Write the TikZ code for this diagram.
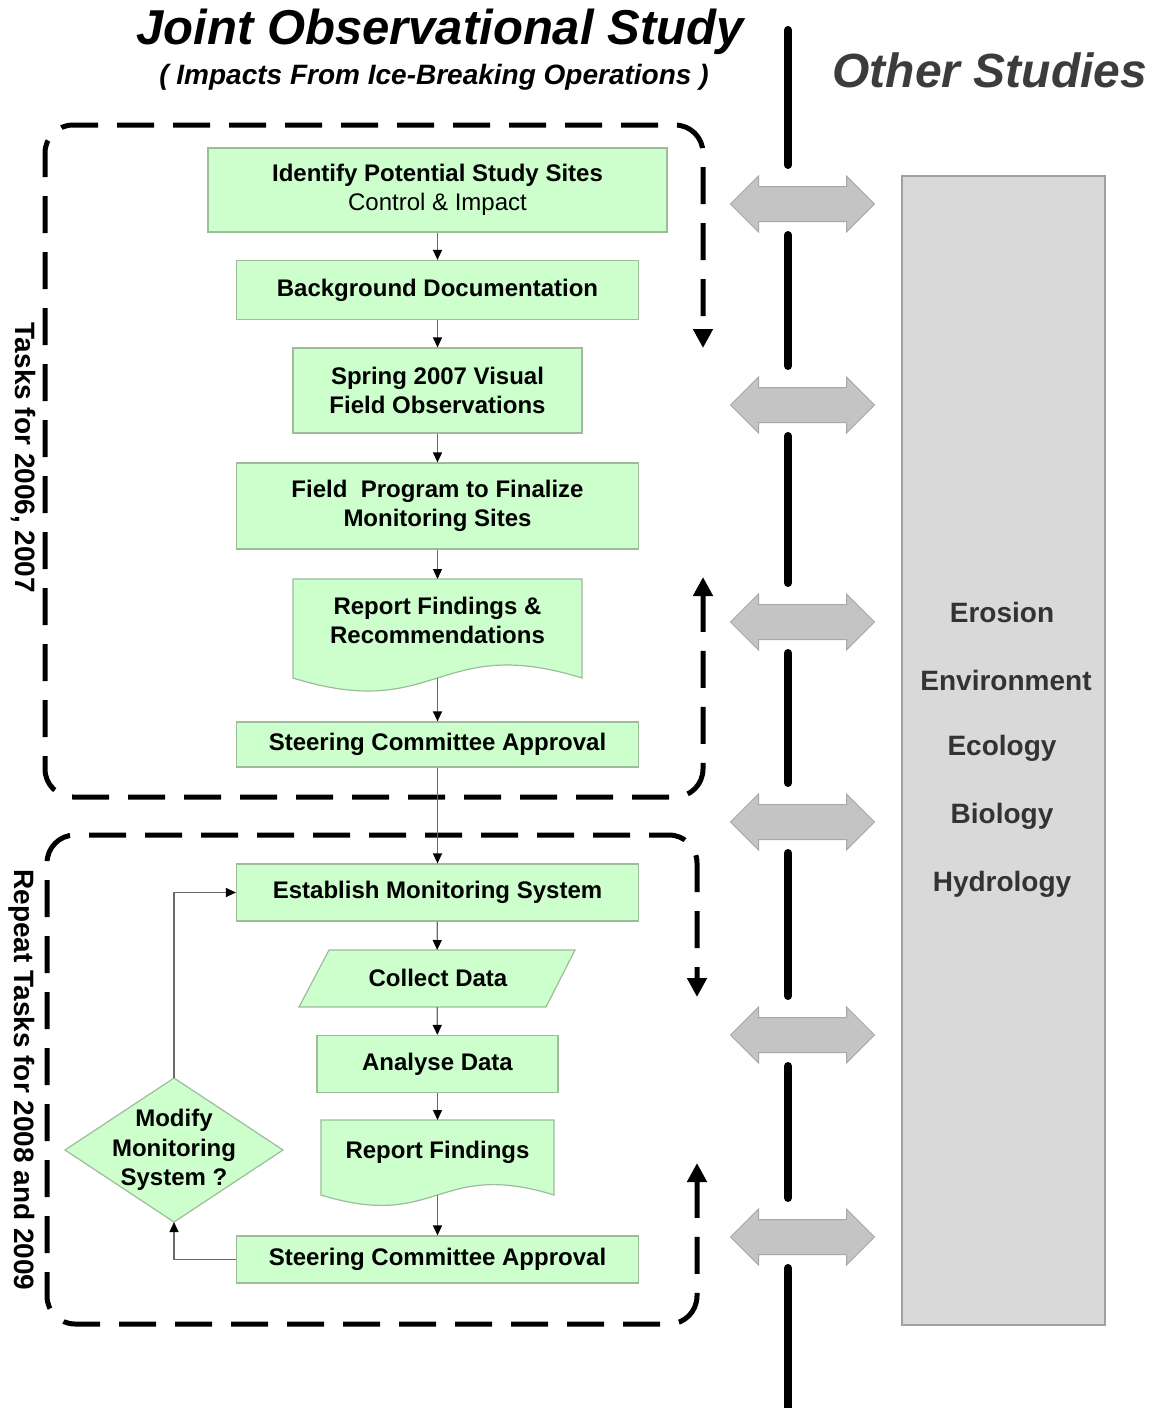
\documentclass[tikz,border=0pt]{standalone}
\usepackage{fontspec}
\setmainfont{Liberation Sans}
\usetikzlibrary{arrows.meta,calc}
\definecolor{boxgreen}{HTML}{CCFFCC}
\definecolor{boxedge}{HTML}{9CBC9C}
\definecolor{conngray}{HTML}{6A6A6A}
\definecolor{arrgray}{HTML}{C4C4C4}
\definecolor{arredge}{HTML}{A8A8A8}
\definecolor{panelgray}{HTML}{D9D9D9}
\definecolor{paneledge}{HTML}{A0A0A0}
\definecolor{darktext}{HTML}{333333}
\definecolor{othertext}{HTML}{3C3C3C}
\begin{document}
\begin{tikzpicture}[x=1pt,y=-1pt,
  proc/.style={draw=boxedge, fill=boxgreen, line width=1.2pt, align=center, inner sep=0pt,
    font=\fontsize{24}{29}\selectfont\bfseries},
  ghost/.style={inner sep=0pt, outer sep=0pt},
  boxtext/.style={align=center, inner sep=0pt, font=\fontsize{24}{29}\selectfont\bfseries},
  outline/.style={draw=boxedge, fill=boxgreen, line width=1.2pt},
  conn/.style={draw=conngray, line width=1.3pt, -{Triangle[length=10pt,width=9pt,color=black]}},
  dbox/.style={line width=5pt, dash pattern=on 37pt off 19pt, rounded corners=28pt,
    {Triangle[length=19pt,width=19pt]}-{Triangle[length=19pt,width=19pt]}},
  sidelabel/.style={rotate=-90, font=\fontsize{28}{32}\selectfont\bfseries},
  vline/.style={line width=8pt, line cap=round},
  dblarrow/.style={fill=arrgray, draw=arredge, line width=1pt},
  paneltext/.style={text=darktext, font=\fontsize{28}{31}\selectfont\bfseries}
]
\useasboundingbox[fill=white] (0,0) rectangle (1158,1408);

% titles
\node[font=\fontsize{49}{55}\selectfont\bfseries\itshape] (title) at (440,32) {Joint Observational Study};
\node[font=\fontsize{28}{32}\selectfont\bfseries\itshape] (subtitle) at (434,77) {( Impacts From Ice-Breaking Operations )};
\node[text=othertext, font=\fontsize{48}{54}\selectfont\bfseries\itshape] (other) at (990,70) {Other Studies};

% dashed groups
\draw[dbox] (703,577) -- (703,797) -- (45,797) -- (45,125) -- (703,125) -- (703,348);
\draw[dbox] (697,1163) -- (697,1324) -- (47,1324) -- (47,835) -- (697,835) -- (697,997);
\node[sidelabel] (lab1) at (23,458) {Tasks for 2006, 2007};
\node[sidelabel] (lab2) at (22,1080) {Repeat Tasks for 2008 and 2009};

% right panel
\node[draw=paneledge, fill=panelgray, line width=1.5pt, minimum width=203pt, minimum height=1149pt, inner sep=0pt] (panel) at (1003.5,750.5) {};
\node[paneltext] (s1) at (1002,612) {Erosion};
\node[paneltext] (s2) at (1006,680) {Environment};
\node[paneltext] (s3) at (1002,748) {Ecology};
\node[paneltext] (s4) at (1002,816) {Biology};
\node[paneltext] (s5) at (1002,884) {Hydrology};

% separator line and double arrows
\foreach \i/\yy in {1/204,2/405,3/622,4/822,5/1035,6/1237}
  \coordinate (a\i) at (788,\yy);
\draw[vline] (788,30) -- ($(a1)+(0,-39)$);
\foreach \i/\j in {1/2,2/3,3/4,4/5,5/6}
  \draw[vline] ($(a\i)+(0,31)$) -- ($(a\j)+(0,-39)$);
\draw[vline] ($(a6)+(0,31)$) -- (788,1412);
\foreach \i in {1,...,6}
  \draw[dblarrow, shift={($(a\i)+(14.5,0)$)}] (-72,0) -- (-44,-28) -- (-44,-17.5) -- (44,-17.5) -- (44,-28)
     -- (72,0) -- (44,28) -- (44,17.5) -- (-44,17.5) -- (-44,28) -- cycle;

% flow nodes: first group
\node[proc, minimum width=459pt, minimum height=84pt] (n1) at (437.5,190) {Identify Potential Study Sites\\{\mdseries Control \& Impact}};
\node[proc, minimum width=402pt, minimum height=59pt] (n2) at (437.5,290) {Background Documentation};
\node[proc, minimum width=289pt, minimum height=85pt] (n3) at (437.5,390.5) {Spring 2007 Visual\\Field Observations};
\node[proc, minimum width=402pt, minimum height=86pt] (n4) at (437.5,506) {Field\ \ Program to Finalize\\Monitoring Sites};
\node[ghost, minimum width=289pt, minimum height=99pt] (n5) at (437.5,628.5) {};
\draw[outline] (n5.south east) -- (n5.north east) -- (n5.north west) -- (n5.south west)
  .. controls ($(n5.south)+(0,45)$) and ($(n5.south)+(0,-45)$) .. (n5.south east) -- cycle;
\node[boxtext] (t5) at (437.5,620) {Report Findings \&\\Recommendations};
\node[proc, minimum width=402pt, minimum height=45pt] (n6) at (437.5,744.5) {Steering Committee Approval};

% second group
\node[proc, minimum width=402pt, minimum height=57pt] (n7) at (437.5,892.5) {Establish Monitoring System};
\node[ghost, minimum width=276pt, minimum height=57pt] (n8) at (437,978.5) {};
\draw[outline] (n8.south west) -- ($(n8.north west)+(30,0)$) -- (n8.north east) -- ($(n8.south east)+(-29,0)$) -- cycle;
\node[boxtext] (t8) at (438,978) {Collect Data};
\node[proc, minimum width=241pt, minimum height=57pt] (n9) at (437.5,1064) {Analyse Data};
\node[ghost, minimum width=233pt, minimum height=75pt] (n10) at (437.5,1157.5) {};
\draw[outline] (n10.south east) -- (n10.north east) -- (n10.north west) -- (n10.south west)
  .. controls ($(n10.south)+(0,36)$) and ($(n10.south)+(0,-36)$) .. (n10.south east) -- cycle;
\node[boxtext] (t10) at (437.5,1152) {Report Findings};
\node[proc, minimum width=402pt, minimum height=47pt] (n11) at (437.5,1259.5) {Steering Committee Approval};
\node[ghost, minimum width=218pt, minimum height=144pt] (n12) at (174,1150) {};
\draw[outline] (n12.west) -- (n12.north) -- (n12.east) -- (n12.south) -- cycle;
\node[boxtext, font=\fontsize{24}{29.5}\selectfont\bfseries] (t12) at (174,1150) {Modify\\Monitoring\\System ?};

% connectors
\draw[conn] (n1) -- (n2);
\draw[conn] (n2) -- (n3);
\draw[conn] (n3) -- (n4);
\draw[conn] (n4) -- (n5);
\draw[conn] (n5.south) -- (n6);
\draw[conn] (n6) -- (n7);
\draw[conn] (n7) -- (n8);
\draw[conn] (n8) -- (n9);
\draw[conn] (n9) -- (n10);
\draw[conn] (n10.south) -- (n11);
\draw[conn] (n11.west) -| (n12.south);
\draw[conn] (n12.north) |- (n7.west);
\end{tikzpicture}
\end{document}
